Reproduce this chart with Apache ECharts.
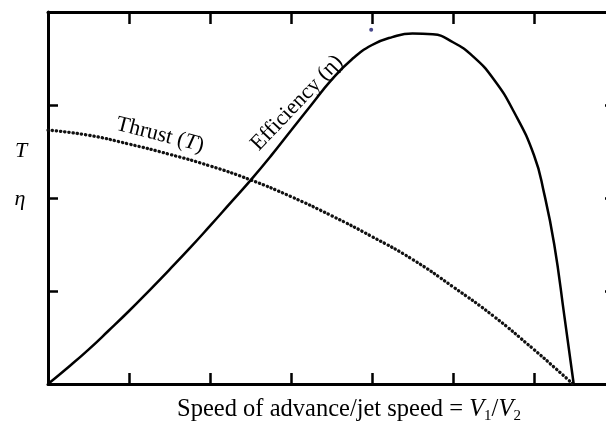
<!DOCTYPE html>
<html>
<head>
<meta charset="utf-8">
<script src="https://cdn.jsdelivr.net/npm/echarts@6/dist/echarts.min.js"></script>
<style>html,body{margin:0;padding:0;background:#fff;overflow:hidden;width:606px;height:426px;}#c{width:620px;height:426px;}</style>
</head>
<body>
<div id="c"></div>
<script>
// Speed ratio V1/V2 (axis units, 7 divisions) and curve values (axis units, 4 divisions)
const thrustX = [0, 0.5, 1, 1.5, 2, 2.5, 3, 3.5, 4, 4.5, 5, 5.5, 6, 6.25, 6.48];
const thrustY = [2.73, 2.675, 2.58, 2.47, 2.345, 2.195, 2.015, 1.81, 1.585, 1.34, 1.045, 0.73, 0.37, 0.18, 0];
const effX = [0, 0.25, 0.5, 0.75, 1, 1.25, 1.5, 1.75, 2, 2.25, 2.5, 2.75, 3, 3.25, 3.5, 3.75, 4, 4.25, 4.5, 4.75, 5, 5.25, 5.5, 5.75, 6, 6.125, 6.25, 6.375, 6.49];
const effY = [0, 0.18, 0.37, 0.575, 0.785, 1.005, 1.23, 1.46, 1.70, 1.945, 2.19, 2.45, 2.725, 3.0, 3.27, 3.49, 3.645, 3.73, 3.768, 3.76, 3.675, 3.52, 3.28, 2.93, 2.46, 2.05, 1.5, 0.73, 0];
const strayX = [3.99];
const strayY = [3.81];
const xTicks = [0, 1, 2, 3, 4, 5, 6, 7];
const yTicks = [0, 1, 2, 3, 4];

const pairs = (xs, ys) => xs.map((x, i) => [x, ys[i]]);
const serif = '"Liberation Serif", "DejaVu Serif", serif';

const chart = echarts.init(document.getElementById('c'), null, {renderer: 'canvas'});
const axisLine = {show: true, onZero: false, lineStyle: {color: '#000', width: 3}};
const tick = (len) => ({show: true, inside: true, length: len, lineStyle: {color: '#000', width: 2.5}});
chart.setOption({
  animation: false,
  backgroundColor: '#fff',
  grid: {left: 48, top: 12, width: 567, height: 372, containLabel: false},
  xAxis: [
    {type: 'value', min: xTicks[0], max: xTicks[xTicks.length - 1], interval: 1, position: 'bottom',
     axisLine, axisTick: tick(11), axisLabel: {show: false}, splitLine: {show: false}},
    {type: 'value', min: xTicks[0], max: xTicks[xTicks.length - 1], interval: 1, position: 'top',
     axisLine, axisTick: tick(12), axisLabel: {show: false}, splitLine: {show: false}}
  ],
  yAxis: [
    {type: 'value', min: yTicks[0], max: yTicks[yTicks.length - 1], interval: 1, position: 'left',
     axisLine, axisTick: tick(10), axisLabel: {show: false}, splitLine: {show: false}},
    {type: 'value', min: yTicks[0], max: yTicks[yTicks.length - 1], interval: 1, position: 'right',
     axisLine, axisTick: tick(10), axisLabel: {show: false}, splitLine: {show: false}}
  ],
  series: [
    {type: 'line', name: 'Thrust (T)', data: pairs(thrustX, thrustY), smooth: 0.5, showSymbol: false, clip: false,
     lineStyle: {color: '#111', width: 3.3, type: [0.3, 3.9], cap: 'round'}},
    {type: 'line', name: 'Efficiency (η)', data: pairs(effX, effY), smooth: 0.5, showSymbol: false, clip: false,
     lineStyle: {color: '#000', width: 2.5}},
    {type: 'scatter', data: pairs(strayX, strayY), symbolSize: 4, itemStyle: {color: '#1a1a6e'}, silent: true}
  ],
  graphic: [
    {type: 'text', x: 21, y: 151, style: {text: 'T', font: 'italic 22px ' + serif, fill: '#000', align: 'center', verticalAlign: 'middle'}},
    {type: 'text', x: 20, y: 199, style: {text: 'η', font: 'italic 22px ' + serif, fill: '#000', align: 'center', verticalAlign: 'middle'}},
    {type: 'text', x: 160, y: 135, rotation: -0.25, style: {
      text: '{a|Thrust (}{i|T}{a|)}', align: 'center', verticalAlign: 'middle',
      rich: {a: {fontFamily: serif, fontSize: 22, fill: '#000'}, i: {fontFamily: serif, fontStyle: 'italic', fontSize: 22, fill: '#000'}}}},
    {type: 'text', x: 297, y: 103, rotation: 0.81, style: {
      text: 'Efficiency (η)', align: 'center', verticalAlign: 'middle', font: '22px ' + serif, fill: '#000'}},
    {type: 'text', x: 349, y: 410, style: {
      text: '{a|Speed of advance/jet speed = }{i|V}{s|1}{a|/}{i|V}{s|2}', align: 'center', verticalAlign: 'middle',
      rich: {a: {fontFamily: serif, fontSize: 24.5, fill: '#000'},
             i: {fontFamily: serif, fontStyle: 'italic', fontSize: 24.5, fill: '#000'},
             s: {fontFamily: serif, fontSize: 15, fill: '#000', padding: [13, 0, 0, 0]}}}}
  ]
});
</script>
</body>
</html>
